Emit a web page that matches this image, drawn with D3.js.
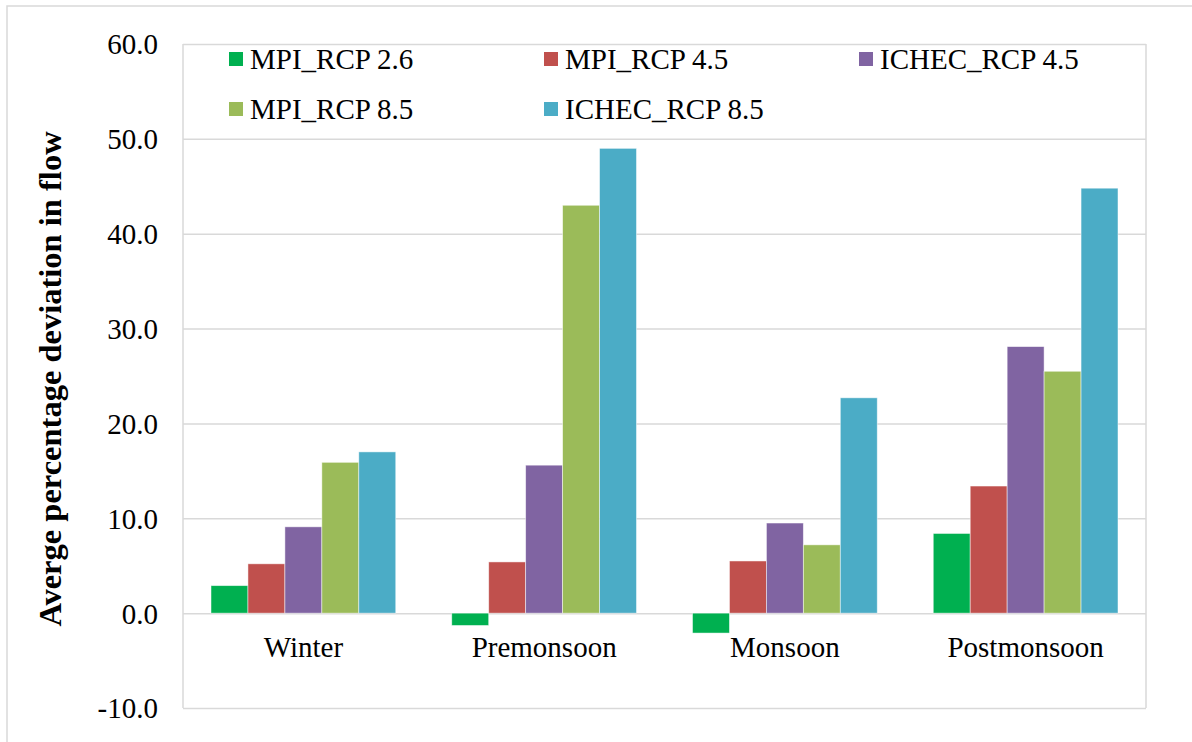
<!DOCTYPE html>
<html><head><meta charset="utf-8">
<script src="https://cdn.jsdelivr.net/npm/d3@7"></script>
<style>
html,body{margin:0;padding:0;background:#fff;}
svg{display:block;}
text{font-family:"Liberation Serif","Times New Roman",serif;fill:#000;}
</style></head>
<body>
<svg id="c" width="1192" height="742"></svg>
<script>
const categories = ["Winter","Premonsoon","Monsoon","Postmonsoon"];
const seriesNames = ["MPI_RCP 2.6","MPI_RCP 4.5","ICHEC_RCP 4.5","MPI_RCP 8.5","ICHEC_RCP 8.5"];
const seriesColors = ["#00B050","#C0504D","#8064A2","#9BBB59","#4BACC6"];
const mpi26   = [2.9, -1.3, -2.1, 8.4];
const mpi45   = [5.2, 5.4, 5.5, 13.4];
const ichec45 = [9.1, 15.6, 9.5, 28.1];
const mpi85   = [15.9, 43.0, 7.2, 25.5];
const ichec85 = [17.0, 49.0, 22.7, 44.8];
const yTicks = [-10,0,10,20,30,40,50,60];
const yTitle = "Averge percentage deviation in flow";

const seriesValues = [mpi26, mpi45, ichec45, mpi85, ichec85];

const svg = d3.select("#c");
const L = 183, R = 1146, T = 44, B = 708;

// outer chart border (left/top visible)
svg.append("rect").attr("x",7).attr("y",6).attr("width",1300).attr("height",900)
  .attr("fill","#fff").attr("stroke","#d9d9d9").attr("stroke-width",1.5);

const y = d3.scaleLinear().domain([-10,60]).range([B,T]);
const x0 = d3.scaleBand().domain(categories).range([L,R]).padding(0);
const gap = 28;
const x1 = d3.scaleBand().domain(seriesNames).range([gap, x0.bandwidth()-gap]).padding(0);

// gridlines via axis
const gridAxis = d3.axisLeft(y).tickValues(yTicks).tickSize(-(R-L)).tickFormat("");
const gg = svg.append("g").attr("transform",`translate(${L},0)`).call(gridAxis);
gg.select(".domain").remove();
gg.selectAll("line").attr("stroke","#d9d9d9").attr("stroke-width",1.5);

// plot border sides
svg.append("line").attr("x1",L).attr("x2",L).attr("y1",T).attr("y2",B).attr("stroke","#d9d9d9").attr("stroke-width",1.5);
svg.append("line").attr("x1",R).attr("x2",R).attr("y1",T).attr("y2",B).attr("stroke","#d9d9d9").attr("stroke-width",1.5);

// y tick labels
const labAxis = d3.axisLeft(y).tickValues(yTicks).tickSize(0).tickPadding(0).tickFormat(d => d.toFixed(1));
const la = svg.append("g").attr("transform",`translate(158,0)`).call(labAxis);
la.select(".domain").remove();
la.selectAll("text").attr("font-size","29px").attr("font-family","Liberation Serif, serif").attr("fill","#000").attr("dy","0.34em");

// bars
const groups = svg.append("g").selectAll("g").data(categories).join("g")
  .attr("transform",d=>`translate(${x0(d)},0)`);
groups.selectAll("rect").data((c,ci)=>seriesNames.map((s,si)=>({s,si,v:seriesValues[si][ci]})))
  .join("rect")
  .attr("x",d=>x1(d.s))
  .attr("width",x1.bandwidth())
  .attr("y",d=>y(Math.max(0,d.v)))
  .attr("height",d=>Math.abs(y(d.v)-y(0)))
  .attr("fill",d=>seriesColors[d.si])
  .attr("stroke","#fff").attr("stroke-opacity",0.6).attr("stroke-width",0.8);

// category labels
svg.append("g").selectAll("text").data(categories).join("text")
  .attr("x",d=>x0(d)+x0.bandwidth()/2).attr("y",657)
  .attr("text-anchor","middle").attr("font-size","29px").text(d=>d);

// y title
svg.append("text").attr("transform","translate(61,379) rotate(-90)")
  .attr("text-anchor","middle").attr("font-size","32.5px").attr("font-weight","bold").text(yTitle);

// legend
const legPos = [[229,59],[544,59],[859,59],[229,109],[544,109]];
const leg = svg.append("g").selectAll("g").data(seriesNames).join("g")
  .attr("transform",(d,i)=>`translate(${legPos[i][0]},${legPos[i][1]})`);
leg.append("rect").attr("x",0).attr("y",-7).attr("width",14).attr("height",14).attr("fill",(d,i)=>seriesColors[i]);
leg.append("text").attr("x",21).attr("y",0).attr("dy","0.34em").attr("font-size","29px").text(d=>d);
</script>
</body></html>
